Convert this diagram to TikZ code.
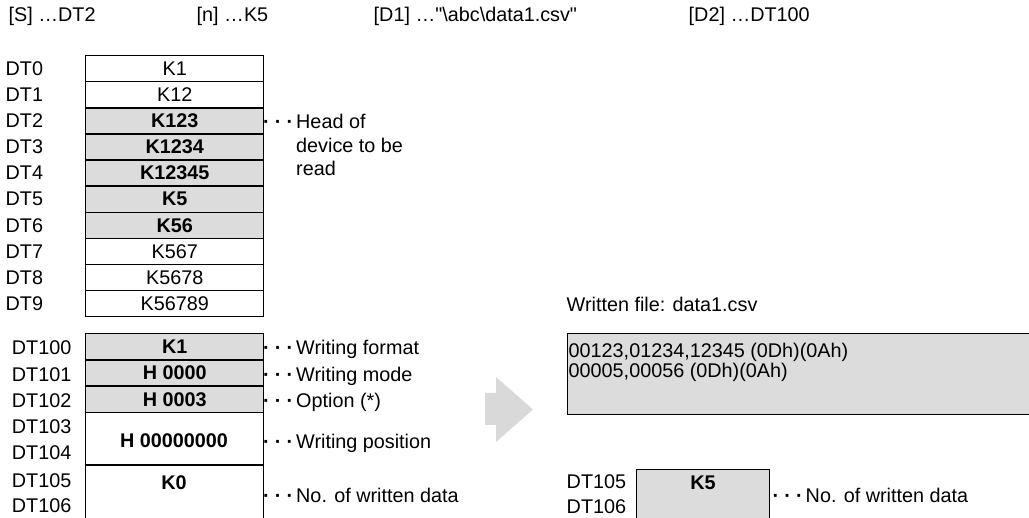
\documentclass[tikz,border=0pt]{standalone}
\usepackage{fontspec}
\setmainfont{Liberation Sans}[Ligatures=TeXOff]
\definecolor{cellgray}{RGB}{220,220,220}
\definecolor{arrowgray}{RGB}{217,217,217}
% three leader dots hung to the left of a comment
\newcommand\tridots{\llap{\bfseries·\kern5.2pt·\kern5.2pt·\kern3pt}}
\begin{document}
\begin{tikzpicture}[x=1pt,y=-1pt,
  font=\fontsize{19.8}{23.5}\selectfont,
  line width=1.4pt,
  cell/.style={draw=black, minimum width=178pt, minimum height=26.1pt,
    inner sep=0pt, anchor=north west},
  hot/.style={cell, fill=cellgray, font=\fontsize{19.8}{23.5}\selectfont\bfseries},
  dtl/.style={anchor=west, inner sep=0pt},
  dtr/.style={anchor=east, inner sep=0pt},
  lab/.style={anchor=base west, inner sep=0pt},
  note/.style={anchor=base west, inner sep=0pt},
  val/.style={inner sep=0pt, font=\fontsize{19.8}{23.5}\selectfont\bfseries}]
\useasboundingbox (0,0) rectangle (1029,518);

% operand summary
\node[lab] (ops) at (8,22) {[S] …DT2};
\node[lab] (opn) at (196,22) {[n] …K5};
\node[lab] (opd1) at (373,22)
  {[D1] …\symbol{34}\textbackslash abc\textbackslash data1.csv\symbol{34}};
\node[lab] (opd2) at (688,22) {[D2] …DT100};

% source data registers DT0-DT9
\node[cell] (r0) at (85,55) {K1};
\node[cell] (r1) at (85,81.1) {K12};
\node[hot]  (r2) at (85,107.2) {K123};
\node[hot]  (r3) at (85,133.3) {K1234};
\node[hot]  (r4) at (85,159.4) {K12345};
\node[hot]  (r5) at (85,185.5) {K5};
\node[hot]  (r6) at (85,211.6) {K56};
\node[cell] (r7) at (85,237.7) {K567};
\node[cell] (r8) at (85,263.8) {K5678};
\node[cell] (r9) at (85,289.9) {K56789};
\foreach \i in {0,...,9}
  \node[dtl] (l\i) at (5,0 |- r\i) {DT\i};

\node[anchor=north west, align=left, inner sep=0pt] (head) at (295.5,113.7)
  {\tridots Head of\\device to be\\read};

% control data registers DT100-DT106
\node[hot] (p0) at (85,333) {K1};
\node[hot] (p1) at (85,359.3) {H 0000};
\node[hot] (p2) at (85,385.6) {H 0003};
\node[cell, minimum height=52.5pt] (p3) at (85,412) {};
\node[cell, minimum height=56pt] (p5) at (85,464.5) {};
\node[val] (v3) at (174,441) {H 00000000};
\node[val] (v5) at (174,483) {K0};

\node[dtr] (m0) at (72,348) {DT100};
\node[dtr] (m1) at (72,375) {DT101};
\node[dtr] (m2) at (72,401) {DT102};
\node[dtr] (m3) at (72,427) {DT103};
\node[dtr] (m4) at (72,453) {DT104};
\node[dtr] (m5) at (72,481) {DT105};
\node[dtr] (m6) at (72,506) {DT106};

\node[note] (n0) at (295.5,354.1) {\tridots Writing format};
\node[note] (n1) at (295.5,381.1) {\tridots Writing mode};
\node[note] (n2) at (295.5,407.1) {\tridots Option (*)};
\node[note] (n3) at (295.5,448.1) {\tridots Writing position};
\node[note] (n5) at (295.5,502.1) {\tridots No. of written data};

% transfer arrow
\fill[arrowgray] (485,393) -- (496,393) -- (496,377) -- (533,409.5)
  -- (496,442) -- (496,425) -- (485,425) -- cycle;

% resulting file and count
\node[lab] (ftitle) at (566,312) {Written file: data1.csv};
\node[draw=black, fill=cellgray, anchor=north west, minimum width=470pt,
  minimum height=81pt, inner sep=0pt] (file) at (567,333) {};
\node[anchor=north west, align=left, inner sep=0pt,
  font=\fontsize{19.8}{20}\selectfont] (ftext) at (568,342.7)
  {00123,01234,12345 (0Dh)(0Ah)\\00005,00056 (0Dh)(0Ah)};

\node[draw=black, fill=cellgray, anchor=north west, minimum width=133pt,
  minimum height=60pt, inner sep=0pt] (cnt) at (636,469) {};
\node[val] (cntv) at (703,483) {K5};
\node[dtl] (q5) at (566,482) {DT105};
\node[dtl] (q6) at (566,507) {DT106};
\node[note] (qn) at (805,502.1) {\tridots No. of written data};
\end{tikzpicture}
\end{document}
